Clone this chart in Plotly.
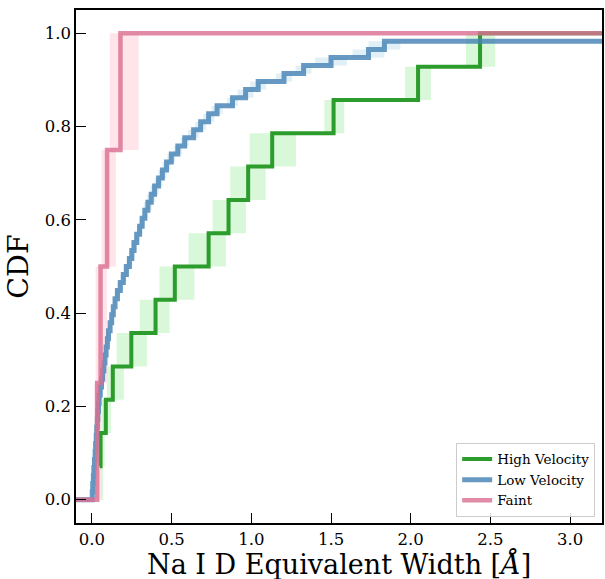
import plotly.graph_objects as go

# ---------------- data ----------------
XRANGE = [-0.1, 3.2]
YRANGE = [-0.05, 1.05]
X_TICKS = [0.0, 0.5, 1.0, 1.5, 2.0, 2.5, 3.0]
Y_TICKS = [0.0, 0.2, 0.4, 0.6, 0.8, 1.0]

# High Velocity: sorted equivalent widths and their lower/upper bounds
high_ew = [0.049, 0.054, 0.087, 0.131, 0.247, 0.399, 0.520, 0.732, 0.857,
           0.980, 1.131, 1.516, 2.046, 2.435]
high_lo = [0.030, 0.035, 0.060, 0.094, 0.155, 0.300, 0.424, 0.606, 0.757,
           0.868, 0.990, 1.458, 1.965, 2.346]
high_hi = [0.070, 0.080, 0.120, 0.200, 0.345, 0.487, 0.643, 0.840, 0.966,
           1.090, 1.280, 1.583, 2.127, 2.530]

# Low Velocity: sorted equivalent widths and symmetric errors
low_ew = [0.002, 0.005, 0.009, 0.012, 0.016, 0.020, 0.023, 0.027, 0.030, 0.034,
          0.037, 0.041, 0.045, 0.052, 0.060, 0.067, 0.075, 0.082, 0.089, 0.097,
          0.104, 0.114, 0.124, 0.134, 0.145, 0.160, 0.178, 0.197, 0.216, 0.235,
          0.250, 0.264, 0.281, 0.299, 0.315, 0.332, 0.351, 0.372, 0.393, 0.418,
          0.442, 0.468, 0.498, 0.539, 0.582, 0.638, 0.682, 0.732, 0.785, 0.882,
          0.964, 1.043, 1.205, 1.328, 1.500, 1.735, 1.835, 3.600]
low_err = [0.008] * 12 + [0.012] * 13 + [0.018] * 11 + [0.025] * 9 + \
          [0.035] * 5 + [0.05] * 4 + [0.10] * 4

# Faint: sorted equivalent widths and their lower/upper bounds
faint_ew = [0.033, 0.054, 0.095, 0.179]
faint_lo = [0.015, 0.023, 0.060, 0.112]
faint_hi = [0.060, 0.094, 0.150, 0.293]

LABELS = ["High Velocity", "Low Velocity", "Faint"]
X_TITLE = "Na I D Equivalent Width [<i>Å</i>]"
Y_TITLE = "CDF"

# ---------------- style ----------------
LINE_COLORS = ["#2c9c2c", "rgba(70,130,180,0.82)", "rgba(219,112,147,0.82)"]
BAND_COLORS = ["#d9f7d9", "#e1f0f7", "#ffe4ea"]
LINE_WIDTHS = [4, 5, 4.5]
FONT = "DejaVu Serif"


def band_polygon(lo, hi, n):
    xs, ys = [], []
    for k, (a, b) in enumerate(zip(lo, hi)):
        y0, y1 = k / n, (k + 1) / n
        xs += [a, b, b, a, a, None]
        ys += [y0, y0, y1, y1, y0, None]
    return xs, ys


def cdf_levels(n, count):
    return [(k + 1) / n for k in range(count)]


fig = go.Figure()

n_high = len(high_ew)
n_low = len(low_ew)
n_faint = len(faint_ew)

low_lo = [v - e for v, e in zip(low_ew, low_err)]
low_hi = [v + e for v, e in zip(low_ew, low_err)]

bands = [(high_lo, high_hi, n_high), (low_lo, low_hi, n_low), (faint_lo, faint_hi, n_faint)]
for (lo, hi, n), col in zip(bands, BAND_COLORS):
    bx, by = band_polygon(lo, hi, n)
    fig.add_trace(go.Scatter(x=bx, y=by, mode="lines", fill="toself",
                             fillcolor=col, line=dict(width=0, color=col),
                             showlegend=False, hoverinfo="skip"))

# step lines
hx = high_ew + [XRANGE[1] + 0.1]
hy = cdf_levels(n_high, n_high) + [1.0]
lx = [XRANGE[0] - 0.1] + low_ew
ly = [0.0] + cdf_levels(n_low, n_low)
fx = [XRANGE[0] - 0.1] + faint_ew + [XRANGE[1] + 0.1]
fy = [0.0] + cdf_levels(n_faint, n_faint) + [1.0]

for (x, y), name, col, w in zip([(hx, hy), (lx, ly), (fx, fy)], LABELS,
                                 LINE_COLORS, LINE_WIDTHS):
    fig.add_trace(go.Scatter(x=x, y=y, mode="lines", name=name,
                             line=dict(color=col, width=w, shape="hv")))

axis_common = dict(showline=True, linecolor="black", linewidth=1.6, mirror=True,
                   ticks="inside", ticklen=10, tickwidth=1.4, tickcolor="black",
                   showgrid=False, zeroline=False,
                   tickfont=dict(family=FONT, size=16.5, color="black"))

fig.update_layout(
    width=605, height=579,
    margin=dict(l=76, r=1, t=10, b=56),
    paper_bgcolor="white", plot_bgcolor="white",
    font=dict(family=FONT, color="black"),
    xaxis=dict(range=XRANGE, tickvals=X_TICKS, tickformat=".1f", **axis_common),
    yaxis=dict(range=YRANGE, tickvals=Y_TICKS, tickformat=".1f",
               title=dict(text=Y_TITLE, font=dict(family=FONT, size=28.5), standoff=8),
               **axis_common),
    legend=dict(x=0.987, y=0.012, xanchor="right", yanchor="bottom",
                bgcolor="rgba(255,255,255,0.85)", bordercolor="#cccccc", borderwidth=1,
                font=dict(family=FONT, size=13.5, color="black"),
                tracegroupgap=2),
    showlegend=True,
    annotations=[dict(text=X_TITLE, xref="paper", yref="paper", x=0.5, y=-0.0805,
                      xanchor="center", yanchor="middle", showarrow=False,
                      font=dict(family=FONT, size=27, color="black"))],
)

fig.write_html("out.html")
